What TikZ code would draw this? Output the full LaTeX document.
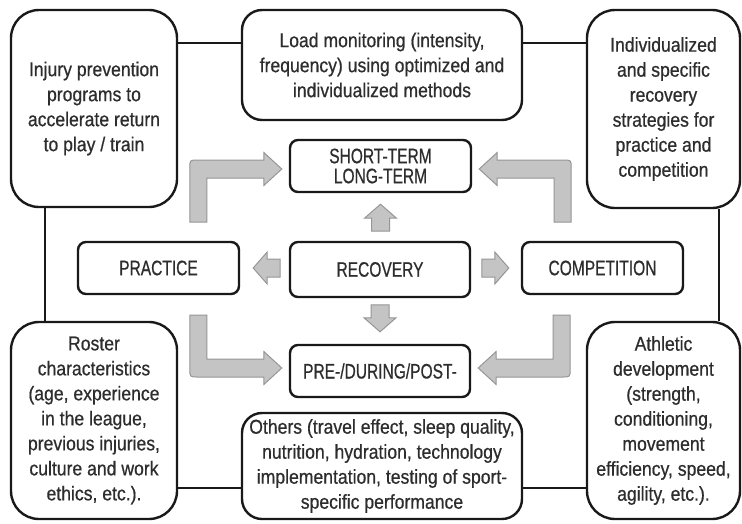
\documentclass[tikz,border=0pt]{standalone}
\usepackage{fontspec}
\setmainfont{Liberation Sans}[FakeStretch=0.88,FakeBold=0.6]
\newfontfamily\capfont{Liberation Sans}[FakeStretch=0.74,FakeBold=0.6]
\usetikzlibrary{calc}
\definecolor{gfill}{RGB}{196,196,196}
\definecolor{gline}{RGB}{150,150,150}
\definecolor{txt}{RGB}{45,45,45}
\tikzset{
  box/.style={draw=black!90, line width=2.4pt, rounded corners=#1, align=center,
    inner sep=0pt, text=txt, font=\fontsize{20}{25}\selectfont},
  box/.default=8pt,
  cbox/.style={draw=black!90, line width=2.4pt, rounded corners=8pt, align=center,
    inner sep=0pt, text=txt, font=\capfont\fontsize{21}{20}\selectfont},
  conn/.style={draw=black!90, line width=2.6pt},
  garrow/.style={fill=gfill, draw=gline, line width=1pt, line join=miter},
  garr/.pic={\draw[garrow] (0,0) -- (-14,16) -- (-14,9) -- (-27,9) -- (-27,-9)
      -- (-14,-9) -- (-14,-16) -- cycle;},
  larr/.pic={\draw[garrow] (0,0) -- (-18,-16.5) -- (-18,-9) -- (-84,-9)
      .. controls (-92,-9) .. (-92,-1) -- (-92,53) -- (-75,53) -- (-75,9)
      -- (-18,9) -- (-18,16.5) -- cycle;}
}
\begin{document}
\begin{tikzpicture}[x=1pt,y=-1pt]
\useasboundingbox[fill=white] (0,0) rectangle (742,523);

% outer boxes
\node[box=28pt, minimum width=166pt, minimum height=197pt] (inj) at (94,108.5)
  {Injury prevention\\programs to\\accelerate return\\to play / train};
\node[box=20pt, minimum width=280pt, minimum height=110pt] (load) at (382,65)
  {Load monitoring (intensity,\\frequency) using optimized and\\individualized methods};
\node[box=28pt, minimum width=153pt, minimum height=198pt] (ind) at (663.5,109)
  {Individualized\\and specific\\recovery\\strategies for\\practice and\\competition};
\node[box=28pt, minimum width=166pt, minimum height=197pt] (roster) at (94,420.5)
  {Roster\\characteristics\\(age, experience\\in the league,\\previous injuries,\\culture and work\\ethics, etc.).};
\node[box=20pt, minimum width=280pt, minimum height=106pt] (others) at (382,466)
  {Others (travel effect, sleep quality,\\nutrition, hydration, technology\\implementation, testing of sport-\\specific performance};
\node[box=28pt, minimum width=153pt, minimum height=197pt] (ath) at (663.5,420.5)
  {Athletic\\development\\(strength,\\conditioning,\\movement\\efficiency, speed,\\agility, etc.).};

% central boxes
\node[cbox, minimum width=181pt, minimum height=52pt] (st) at (380.5,166)
  {SHORT-TERM\\LONG-TERM};
\node[cbox, minimum width=180pt, minimum height=55pt] (rec) at (380,269.5) {RECOVERY};
\node[cbox, minimum width=180pt, minimum height=52pt] (pdp) at (380,371) {PRE-/DURING/POST-};
\node[cbox, minimum width=161pt, minimum height=52pt] (prac) at (158.5,268) {PRACTICE};
\node[cbox, minimum width=161pt, minimum height=52pt] (comp) at (602.5,268) {COMPETITION};

% outer connectors
\draw[conn] (inj.east |- 0,43) -- (load.west |- 0,43);
\draw[conn] (load.east |- 0,43) -- (ind.west |- 0,43);
\draw[conn] (inj.south -| 45,0) -- (roster.north -| 45,0);
\draw[conn] (ind.south -| 719,0) -- (ath.north -| 719,0);
\draw[conn] (roster.east |- 0,488) -- (others.west |- 0,488);
\draw[conn] (others.east |- 0,488) -- (ath.west |- 0,488);

% gray straight arrows
\pic[rotate=90] at ($(st.south)+(0,11)$) {garr};
\pic[rotate=-90] at ($(pdp.north)+(0,-12)$) {garr};
\pic[rotate=180] at ($(prac.east)+(13,0)$) {garr};
\pic at ($(comp.west)+(-12,0)$) {garr};

% gray L-shaped arrows
\pic at ($(st.west)+(-7,3)$) {larr};
\pic[xscale=-1] at ($(st.east)+(7,3)$) {larr};
\pic[yscale=-1] at ($(pdp.west)+(-7,-3)$) {larr};
\pic[xscale=-1,yscale=-1] at ($(pdp.east)+(7,-3)$) {larr};
\end{tikzpicture}
\end{document}
